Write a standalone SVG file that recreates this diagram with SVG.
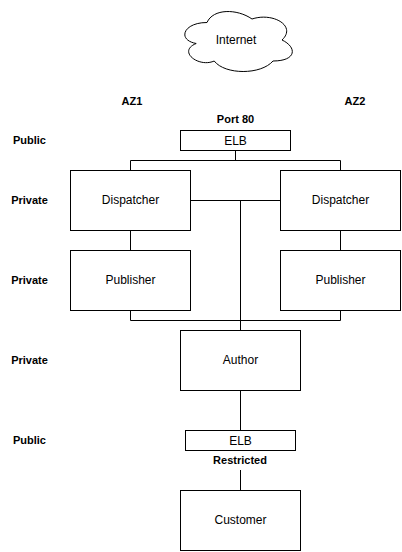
<svg xmlns="http://www.w3.org/2000/svg" width="402" height="552" viewBox="0 0 402 552">
<style>
text{font-family:"Liberation Sans",Arial,sans-serif;font-size:12px;fill:#000;text-anchor:middle;dominant-baseline:central}
.b{font-weight:bold;font-size:11px}
.r{font-size:11px}
.n{fill:#fff;stroke:#000;stroke-width:1}
.c{fill:none;stroke:#000;stroke-width:1}
</style>
<rect width="402" height="552" fill="#fff"/>
<g id="internet">
<path class="n" d="M207 22.5C183 22.5 177 40 196.2 43.5C177 51.2 198.6 68 214.2 61C225 75 261 75 273 61C297 61 297 47 282 40C297 26 273 12 252 19C237 8.5 213 8.5 207 22.5Z"/>
<text x="236" y="40">Internet</text>
</g>
<g id="labels">
<text class="b" x="132" y="101">AZ1</text>
<text class="b" x="355" y="101">AZ2</text>
<text class="b" x="235.5" y="119">Port 80</text>
<text class="b" x="29.5" y="140">Public</text>
<text class="b" x="29.5" y="200">Private</text>
<text class="b" x="29.5" y="280">Private</text>
<text class="b" x="29.5" y="360">Private</text>
<text class="b" x="29.5" y="440">Public</text>
<text class="b" x="240" y="460">Restricted</text>
</g>
<g id="connectors">
<path class="c" d="M235.5 150.5V160.5M130.5 170V160.5H340.5V170"/>
<path class="c" d="M190 200.5H280M240.5 200.5V330"/>
<path class="c" d="M130.5 230V250M340.5 230V250"/>
<path class="c" d="M130.5 310V320.5H340.5V310"/>
<path class="c" d="M240.5 390V430.5"/>
<path class="c" d="M240.5 470V490"/>
</g>
<g id="elb-top"><rect class="n" x="180.5" y="130.5" width="110" height="20"/><text x="235.5" y="141">ELB</text></g>
<g id="dispatcher-1"><rect class="n" x="70.5" y="170.5" width="120" height="60"/><text x="130.5" y="200">Dispatcher</text></g>
<g id="dispatcher-2"><rect class="n" x="280.5" y="170.5" width="120" height="60"/><text x="340.5" y="200">Dispatcher</text></g>
<g id="publisher-1"><rect class="n" x="70.5" y="250.5" width="120" height="60"/><text x="130.5" y="280">Publisher</text></g>
<g id="publisher-2"><rect class="n" x="280.5" y="250.5" width="120" height="60"/><text x="340.5" y="280">Publisher</text></g>
<g id="author"><rect class="n" x="180.5" y="330.5" width="120" height="60"/><text x="240.5" y="360">Author</text></g>
<g id="elb-bottom"><rect class="n" x="185.5" y="430.5" width="110" height="20"/><text x="240.5" y="441">ELB</text></g>
<g id="customer"><rect class="n" x="180.5" y="490.5" width="120" height="60"/><text x="240.5" y="520">Customer</text></g>
</svg>
